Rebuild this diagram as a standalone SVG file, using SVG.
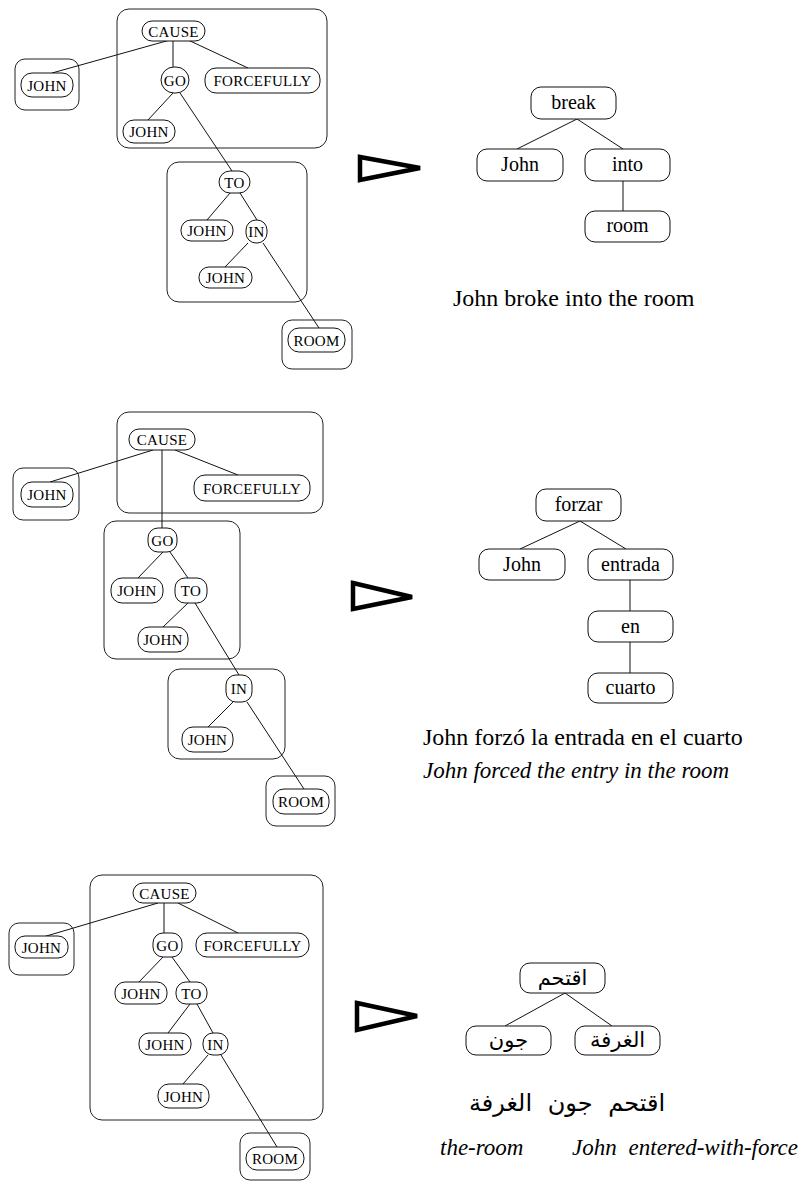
<svg xmlns="http://www.w3.org/2000/svg" width="803" height="1182" viewBox="0 0 803 1182">
<style>
.bg{fill:#fff}
.box{fill:none;stroke:#222;stroke-width:1}
.nd{fill:#fff;stroke:#111;stroke-width:1}
.e{stroke:#111;stroke-width:1;fill:none}
.arr{fill:none;stroke:#000;stroke-width:4.5;stroke-linejoin:miter}
.s{font-family:"Liberation Serif","Times New Roman",serif;font-size:15px;letter-spacing:0.3px;text-anchor:middle;fill:#000}
.m{font-family:"Liberation Serif","Times New Roman",serif;font-size:20px;text-anchor:middle;fill:#000}
.cap{font-family:"Liberation Serif","Times New Roman",serif;font-size:24px;fill:#000}
.it{font-family:"Liberation Serif","Times New Roman",serif;font-size:23px;font-style:italic;fill:#000}
.ar{font-family:"DejaVu Sans","Noto Sans",sans-serif;font-size:21px;text-anchor:middle;fill:#000}
.arc{font-family:"DejaVu Sans","Noto Sans",sans-serif;font-size:24px;word-spacing:8px;text-anchor:middle;fill:#000}
</style>
<rect class="bg" x="0" y="0" width="803" height="1182"/>

<!-- containers -->
<g id="containers">
<rect class="box" x="117" y="9" width="210" height="139" rx="12"/>
<rect class="box" x="15" y="59" width="64" height="51" rx="10"/>
<rect class="box" x="167" y="162" width="140" height="140" rx="12"/>
<rect class="box" x="282" y="320" width="70" height="49" rx="10"/>

<rect class="box" x="117" y="412" width="206" height="101" rx="12"/>
<rect class="box" x="13" y="468" width="66" height="52" rx="10"/>
<rect class="box" x="104" y="521" width="136" height="138" rx="12"/>
<rect class="box" x="168" y="669" width="117" height="90" rx="12"/>
<rect class="box" x="266" y="776" width="69" height="50" rx="10"/>

<rect class="box" x="90" y="875" width="233" height="245" rx="12"/>
<rect class="box" x="9" y="923" width="65" height="52" rx="10"/>
<rect class="box" x="240" y="1133" width="70" height="47" rx="10"/>
</g>

<g id="connectors">
<!-- section 1 -->
<line class="e" x1="170" y1="40" x2="52" y2="73"/>
<line class="e" x1="173" y1="40" x2="173" y2="67"/>
<line class="e" x1="188" y1="40" x2="248" y2="68"/>
<line class="e" x1="173" y1="93" x2="148" y2="120"/>
<line class="e" x1="180" y1="93" x2="232" y2="171"/>
<line class="e" x1="230" y1="193" x2="207" y2="220"/>
<line class="e" x1="240" y1="193" x2="257" y2="220"/>
<line class="e" x1="248" y1="243" x2="225" y2="267"/>
<line class="e" x1="263" y1="243" x2="319" y2="328"/>
<line class="e" x1="577" y1="119" x2="517" y2="149"/>
<line class="e" x1="577" y1="119" x2="623" y2="149"/>
<line class="e" x1="623" y1="181" x2="623" y2="211"/>
<!-- section 2 -->
<line class="e" x1="153" y1="450" x2="50" y2="482"/>
<line class="e" x1="162" y1="450" x2="162" y2="528"/>
<line class="e" x1="175" y1="450" x2="238" y2="475"/>
<line class="e" x1="163" y1="552" x2="138" y2="578"/>
<line class="e" x1="170" y1="552" x2="188" y2="578"/>
<line class="e" x1="188" y1="603" x2="163" y2="627"/>
<line class="e" x1="195" y1="603" x2="239" y2="675"/>
<line class="e" x1="233" y1="702" x2="208" y2="727"/>
<line class="e" x1="247" y1="702" x2="304" y2="789"/>
<line class="e" x1="580" y1="521" x2="520" y2="549"/>
<line class="e" x1="580" y1="521" x2="626" y2="549"/>
<line class="e" x1="630" y1="580" x2="630" y2="611"/>
<line class="e" x1="630" y1="642" x2="630" y2="673"/>
<!-- section 3 -->
<line class="e" x1="158" y1="903" x2="43" y2="937"/>
<line class="e" x1="164" y1="903" x2="164" y2="933"/>
<line class="e" x1="178" y1="903" x2="238" y2="933"/>
<line class="e" x1="163" y1="957" x2="139" y2="982"/>
<line class="e" x1="172" y1="957" x2="190" y2="982"/>
<line class="e" x1="190" y1="1004" x2="168" y2="1033"/>
<line class="e" x1="197" y1="1004" x2="213" y2="1033"/>
<line class="e" x1="208" y1="1055" x2="183" y2="1084"/>
<line class="e" x1="221" y1="1055" x2="277" y2="1147"/>
<line class="e" x1="565" y1="993" x2="505" y2="1026"/>
<line class="e" x1="565" y1="993" x2="612" y2="1026"/>
</g>

<!-- arrows -->
<g id="arrow1"><polygon class="arr" points="360,157 420,168 360,180"/></g>
<g id="arrow2"><polygon class="arr" points="353,583 412,597 353,609"/></g>
<g id="arrow3"><polygon class="arr" points="357,1003 417,1016 357,1030"/></g>

<!-- section 1 nodes -->
<g id="s1-cause"><rect class="nd" x="142" y="21" width="63" height="20" rx="10"/><text class="s" x="173.5" y="36.5">CAUSE</text></g>
<g id="s1-john-a"><rect class="nd" x="21" y="73" width="52" height="24" rx="11"/><text class="s" x="47" y="90.5">JOHN</text></g>
<g id="s1-go"><rect class="nd" x="161" y="67" width="28" height="26" rx="13"/><text class="s" x="175" y="85.5">GO</text></g>
<g id="s1-forcefully"><rect class="nd" x="205" y="68" width="115" height="25" rx="11"/><text class="s" x="262.5" y="86">FORCEFULLY</text></g>
<g id="s1-john-b"><rect class="nd" x="123" y="120" width="52" height="23" rx="11"/><text class="s" x="149" y="137">JOHN</text></g>
<g id="s1-to"><rect class="nd" x="219" y="171" width="31" height="22" rx="11"/><text class="s" x="234.5" y="187.5">TO</text></g>
<g id="s1-john-c"><rect class="nd" x="181" y="220" width="52" height="21" rx="10"/><text class="s" x="207" y="236">JOHN</text></g>
<g id="s1-in"><rect class="nd" x="246" y="220" width="21" height="23" rx="10"/><text class="s" x="256.5" y="237">IN</text></g>
<g id="s1-john-d"><rect class="nd" x="199" y="267" width="53" height="21" rx="10"/><text class="s" x="225.5" y="283">JOHN</text></g>
<g id="s1-room"><rect class="nd" x="288" y="328" width="57" height="24" rx="11"/><text class="s" x="316.5" y="345.5">ROOM</text></g>

<g id="s1-break"><rect class="nd" x="531" y="87" width="85" height="32" rx="10"/><text class="m" x="573.5" y="109">break</text></g>
<g id="s1-john"><rect class="nd" x="477" y="149" width="86" height="32" rx="10"/><text class="m" x="520" y="171">John</text></g>
<g id="s1-into"><rect class="nd" x="585" y="149" width="85" height="32" rx="10"/><text class="m" x="627.5" y="171">into</text></g>
<g id="s1-roomw"><rect class="nd" x="585" y="211" width="85" height="31" rx="10"/><text class="m" x="627.5" y="232">room</text></g>
<text class="cap" x="453" y="306">John broke into the room</text>

<!-- section 2 nodes -->
<g id="s2-cause"><rect class="nd" x="129" y="429" width="66" height="21" rx="10"/><text class="s" x="162" y="445">CAUSE</text></g>
<g id="s2-john-a"><rect class="nd" x="21" y="482" width="52" height="25" rx="11"/><text class="s" x="47" y="500">JOHN</text></g>
<g id="s2-forcefully"><rect class="nd" x="194" y="475" width="116" height="26" rx="11"/><text class="s" x="252" y="493.5">FORCEFULLY</text></g>
<g id="s2-go"><rect class="nd" x="148" y="528" width="29" height="24" rx="10"/><text class="s" x="162.5" y="545.5">GO</text></g>
<g id="s2-john-b"><rect class="nd" x="111" y="578" width="52" height="25" rx="11"/><text class="s" x="137" y="596">JOHN</text></g>
<g id="s2-to"><rect class="nd" x="175" y="578" width="32" height="25" rx="10"/><text class="s" x="191" y="596">TO</text></g>
<g id="s2-john-c"><rect class="nd" x="138" y="627" width="50" height="25" rx="11"/><text class="s" x="163" y="645">JOHN</text></g>
<g id="s2-in"><rect class="nd" x="226" y="675" width="26" height="27" rx="10"/><text class="s" x="239" y="694">IN</text></g>
<g id="s2-john-d"><rect class="nd" x="182" y="727" width="51" height="25" rx="11"/><text class="s" x="207.5" y="745">JOHN</text></g>
<g id="s2-room"><rect class="nd" x="273" y="789" width="56" height="25" rx="11"/><text class="s" x="301" y="807">ROOM</text></g>

<g id="s2-forzar"><rect class="nd" x="536" y="489" width="85" height="32" rx="10"/><text class="m" x="578.5" y="511">forzar</text></g>
<g id="s2-john"><rect class="nd" x="479" y="549" width="86" height="31" rx="10"/><text class="m" x="522" y="570.5">John</text></g>
<g id="s2-entrada"><rect class="nd" x="588" y="549" width="85" height="31" rx="10"/><text class="m" x="630.5" y="570.5">entrada</text></g>
<g id="s2-en"><rect class="nd" x="588" y="611" width="85" height="31" rx="10"/><text class="m" x="630.5" y="632.5">en</text></g>
<g id="s2-cuarto"><rect class="nd" x="588" y="673" width="85" height="30" rx="10"/><text class="m" x="630.5" y="694">cuarto</text></g>
<text class="cap" x="423" y="745">John forzó la entrada en el cuarto</text>
<text class="it" x="423" y="778">John forced the entry in the room</text>

<!-- section 3 nodes -->
<g id="s3-cause"><rect class="nd" x="133" y="883" width="63" height="20" rx="10"/><text class="s" x="164.5" y="898.5">CAUSE</text></g>
<g id="s3-john-a"><rect class="nd" x="15" y="936" width="53" height="22" rx="10"/><text class="s" x="41.5" y="952.5">JOHN</text></g>
<g id="s3-go"><rect class="nd" x="153" y="933" width="29" height="24" rx="10"/><text class="s" x="167.5" y="950.5">GO</text></g>
<g id="s3-forcefully"><rect class="nd" x="196" y="933" width="113" height="24" rx="11"/><text class="s" x="252.5" y="950.5">FORCEFULLY</text></g>
<g id="s3-john-b"><rect class="nd" x="115" y="982" width="52" height="22" rx="10"/><text class="s" x="141" y="998.5">JOHN</text></g>
<g id="s3-to"><rect class="nd" x="176" y="982" width="31" height="22" rx="10"/><text class="s" x="191.5" y="998.5">TO</text></g>
<g id="s3-john-c"><rect class="nd" x="139" y="1033" width="52" height="22" rx="10"/><text class="s" x="165" y="1049.5">JOHN</text></g>
<g id="s3-in"><rect class="nd" x="203" y="1033" width="25" height="22" rx="10"/><text class="s" x="215.5" y="1049.5">IN</text></g>
<g id="s3-john-d"><rect class="nd" x="158" y="1084" width="51" height="24" rx="11"/><text class="s" x="183.5" y="1101.5">JOHN</text></g>
<g id="s3-room"><rect class="nd" x="246" y="1147" width="58" height="23" rx="11"/><text class="s" x="275" y="1164">ROOM</text></g>

<g id="s3-root"><rect class="nd" x="520" y="963" width="85" height="30" rx="10"/><text class="ar" x="562.5" y="985">اقتحم</text></g>
<g id="s3-john"><rect class="nd" x="466" y="1026" width="85" height="29" rx="10"/><text class="ar" x="508.5" y="1047">جون</text></g>
<g id="s3-room-ar"><rect class="nd" x="575" y="1026" width="85" height="29" rx="10"/><text class="ar" x="617.5" y="1047">الغرفة</text></g>
<text class="arc" x="567" y="1111">اقتحم جون الغرفة</text>
<text class="it" x="440" y="1155">the-room</text>
<text class="it" x="572" y="1155">John</text>
<text class="it" x="798" y="1155" text-anchor="end">entered-with-force</text>
</svg>
